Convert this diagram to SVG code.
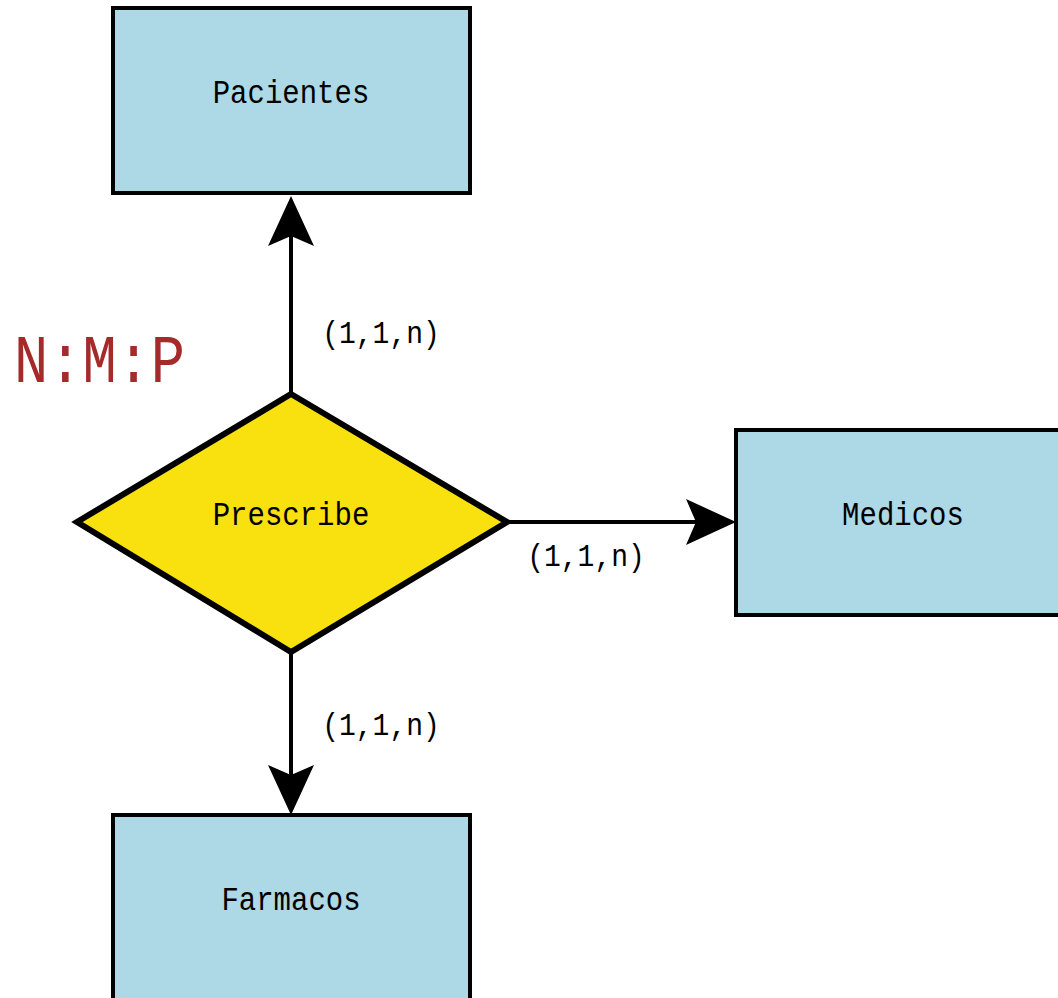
<svg xmlns="http://www.w3.org/2000/svg" width="1058" height="998" viewBox="0 0 1058 998">
  <style>
    .entity { fill: #add8e6; stroke: #000; stroke-width: 4; }
    .relation { fill: #f9e10f; stroke: #000; stroke-width: 6; stroke-linejoin: miter; }
    .label { font-family: "Liberation Mono", "DejaVu Sans Mono", monospace; font-size: 29px; fill: #000; text-anchor: middle; }
    .card { font-family: "Liberation Mono", "DejaVu Sans Mono", monospace; font-size: 28px; fill: #000; text-anchor: middle; }
    .ratio { font-family: "Liberation Mono", "DejaVu Sans Mono", monospace; font-size: 57px; fill: #a52a2a; text-anchor: start; }
    .edge { stroke: #000; stroke-width: 4; fill: none; }
  </style>
  <defs>
    <!-- arrowhead anchored at its notch so the shaft ends inside the head -->
    <marker id="arrow" viewBox="0 0 50 50" refX="10" refY="25" markerWidth="50" markerHeight="50" markerUnits="userSpaceOnUse" orient="auto">
      <path d="M0,2 L50,25 L0,48 L10,25 Z" fill="#000"/>
    </marker>
  </defs>

  <rect width="1058" height="998" fill="#fff"/>

  <!-- connectors -->
  <g id="connectors">
    <line class="edge" x1="291" y1="394" x2="291" y2="236" marker-end="url(#arrow)"/>
    <line class="edge" x1="507" y1="522" x2="696" y2="522" marker-end="url(#arrow)"/>
    <line class="edge" x1="291" y1="652" x2="291" y2="775" marker-end="url(#arrow)"/>
    <text class="card" transform="translate(381,343) scale(1,1.12)">(1,1,n)</text>
    <text class="card" transform="translate(586,566) scale(1,1.12)">(1,1,n)</text>
    <text class="card" transform="translate(381,735) scale(1,1.12)">(1,1,n)</text>
  </g>

  <!-- entities -->
  <g id="pacientes">
    <rect class="entity" x="113" y="8" width="357" height="185"/>
    <text class="label" transform="translate(291,103) scale(1,1.15)">Pacientes</text>
  </g>

  <g id="medicos">
    <rect class="entity" x="736" y="430" width="357" height="185"/>
    <text class="label" transform="translate(903,525) scale(1,1.15)">Medicos</text>
  </g>

  <g id="farmacos">
    <rect class="entity" x="113" y="815" width="357" height="185"/>
    <text class="label" transform="translate(291,910) scale(1,1.15)">Farmacos</text>
  </g>

  <!-- relationship -->
  <g id="prescribe">
    <polygon class="relation" points="291,394 507,522 291,652 77,522"/>
    <text class="label" transform="translate(291,525) scale(1,1.15)">Prescribe</text>
  </g>

  <!-- cardinality type -->
  <g id="ratio">
    <text class="ratio" transform="translate(14,382) scale(1,1.2)">N:M:P</text>
  </g>
</svg>
